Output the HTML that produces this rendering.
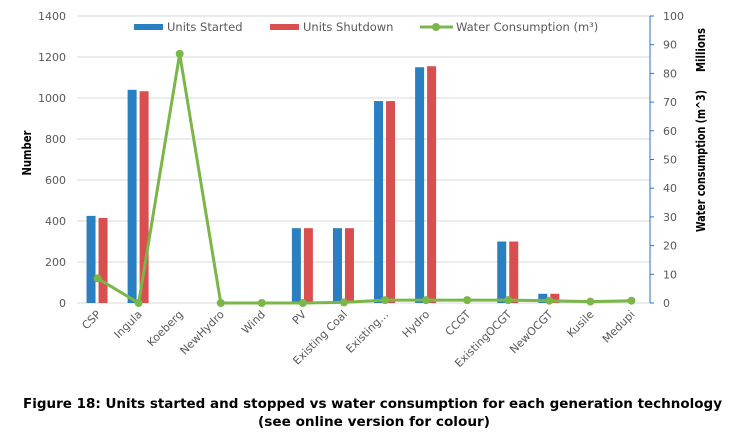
<!DOCTYPE html>
<html><head><meta charset="utf-8"><style>
body{margin:0;background:#fff;width:734px;height:429px;overflow:hidden;font-family:"Liberation Sans",sans-serif}
svg text{font-family:"DejaVu Sans","Liberation Sans",sans-serif}
</style></head><body>
<svg id="chart" width="734" height="429" xmlns="http://www.w3.org/2000/svg">
<g id="grid"></g><g id="bars"></g><g id="line"></g><g id="axes"></g>
<g font-size="11.5" fill="#595959">
<rect x="134" y="24" width="29" height="6" fill="#2a7fc1"/><text x="167" y="31" fill="#595959">Units Started</text>
<rect x="270" y="24" width="29" height="6" fill="#d94f4f"/><text x="303" y="31" fill="#595959">Units Shutdown</text>
<line x1="420" y1="27" x2="453" y2="27" stroke="#7ab648" stroke-width="3"/><circle cx="436" cy="27" r="4" fill="#7ab648"/>
<text x="456" y="31" fill="#595959">Water Consumption (m³)</text></g>
<text transform="translate(31,153) rotate(-90)" text-anchor="middle" font-size="12" font-weight="bold" fill="#000" textLength="45" lengthAdjust="spacingAndGlyphs">Number</text>
<text transform="translate(705,161) rotate(-90)" text-anchor="middle" font-size="12" font-weight="bold" fill="#000" textLength="142" lengthAdjust="spacingAndGlyphs">Water consumption (m^3)</text>
<text transform="translate(705,50) rotate(-90)" text-anchor="middle" font-size="12" font-weight="bold" fill="#000" textLength="44" lengthAdjust="spacingAndGlyphs">Millions</text>
<text x="23" y="408" font-size="13" font-weight="bold" fill="#000" textLength="699" lengthAdjust="spacingAndGlyphs">Figure 18: Units started and stopped vs water consumption for each generation technology</text>
<text x="258" y="426" font-size="13" font-weight="bold" fill="#000" textLength="232" lengthAdjust="spacingAndGlyphs">(see online version for colour)</text>
</svg>
<script>
const categories=["CSP","Ingula","Koeberg","NewHydro","Wind","PV","Existing Coal","Existing…","Hydro","CCGT","ExistingOCGT","NewOCGT","Kusile","Medupi"];
const unitsStarted=[425,1040,0,0,0,365,365,985,1150,0,300,45,0,0];
const unitsShutdown=[415,1033,0,0,0,365,365,985,1155,0,300,45,0,0];
const water=[8.6,0,86.8,0,0,0,0.2,1,1,1,1,0.8,0.5,0.8];
const leftTicks=[0,200,400,600,800,1000,1200,1400];
const rightTicks=[0,10,20,30,40,50,60,70,80,90,100];
const NS="http://www.w3.org/2000/svg";
const L=77,R=652,T=16,B=303;
const bw=(R-L)/categories.length;
const xc=i=>L+bw*(i+0.5);
const yL=v=>B-(v/1400)*(B-T);
const yR=v=>B-(v/100)*(B-T);
function mk(tag,attrs,parent){const e=document.createElementNS(NS,tag);for(const k in attrs)e.setAttribute(k,attrs[k]);document.getElementById(parent).appendChild(e);return e;}
leftTicks.forEach(t=>{
 const l=mk('line',{x1:L,x2:R-2,y1:yL(t),y2:yL(t),stroke:'#d9d9d9','stroke-width':1},'grid');
 
 
 const tx=mk('text',{x:66,y:yL(t)+4,'text-anchor':'end','font-size':11,fill:'#595959'},'axes');tx.textContent=t;
 
 
});
const ax=mk('line',{x1:R-2,x2:R-2,y1:T,y2:B,stroke:'#2e75b6','stroke-width':1},'axes');


rightTicks.forEach(t=>{
 mk('line',{x1:R-2,x2:R+2,y1:yR(t),y2:yR(t),stroke:'#2e75b6'},'axes');
 const tx=mk('text',{x:663,y:yR(t)+4,'font-size':11,fill:'#595959'},'axes');tx.textContent=t;
 
 
});
categories.forEach((c,i)=>{
 const x=xc(i);
 if(unitsStarted[i]>0){const r=mk('rect',{x:x-11,y:yL(unitsStarted[i]),width:9,height:B-yL(unitsStarted[i]),fill:'#2a7fc1'},'bars');
 
 }
 if(unitsShutdown[i]>0){const r=mk('rect',{x:x+1,y:yL(unitsShutdown[i]),width:9,height:B-yL(unitsShutdown[i]),fill:'#d94f4f'},'bars');
 
 }
 const tx=mk('text',{x:0,y:0,'text-anchor':'end','font-size':11,fill:'#595959',transform:`translate(${x+4},${B+12}) rotate(-45)`},'axes');tx.textContent=c;
 
 
});
const pl=mk('polyline',{points:water.map((v,i)=>xc(i)+','+yR(v)).join(' '),fill:'none',stroke:'#7ab648','stroke-width':3,'stroke-linejoin':'round'},'line');


water.forEach((v,i)=>{const c=mk('circle',{cx:xc(i),cy:yR(v),r:4,fill:'#7ab648'},'line');
 
 });
</script>
</body></html>
